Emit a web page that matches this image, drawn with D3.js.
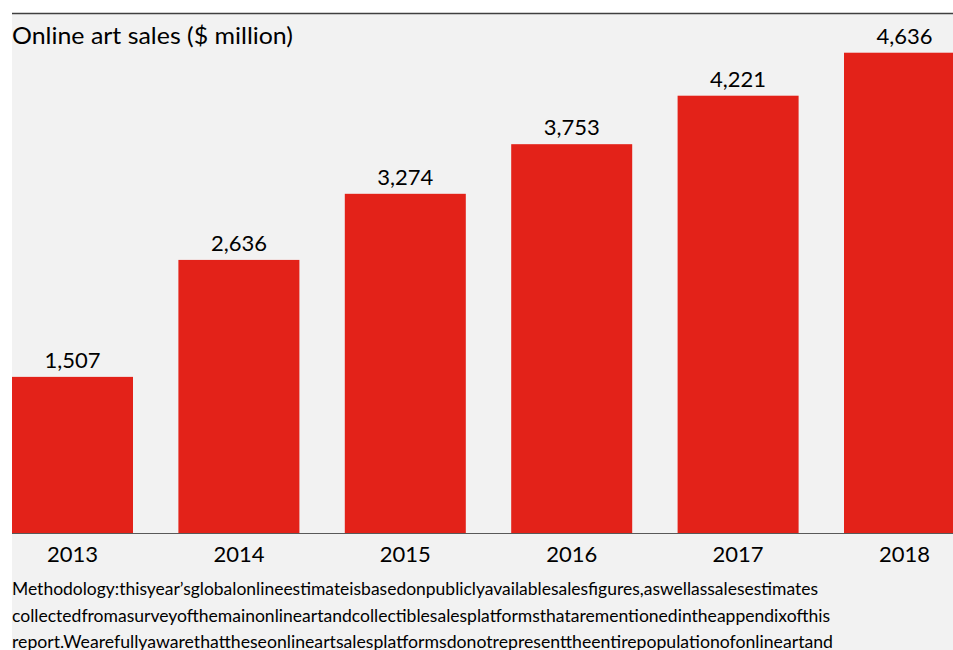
<!DOCTYPE html>
<html>
<head>
<meta charset="utf-8">
<script src="https://cdn.jsdelivr.net/npm/d3@7"></script>
<style>
  body { margin: 0; background: #fff; }
  svg { display: block; font-family: Lato, "Open Sans", sans-serif; }
</style>
</head>
<body>
<div id="chart"></div>
<script>
const years = ["2013", "2014", "2015", "2016", "2017", "2018"];
const sales = [1507, 2636, 3274, 3753, 4221, 4636];
const title = "Online art sales ($ million)";
const notes = [
  "Methodology:thisyear\u2019sglobalonlineestimateisbasedonpubliclyavailablesalesfigures,aswellassalesestimates",
  "collectedfromasurveyofthemainonlineartandcollectiblesalesplatformsthatarementionedintheappendixofthis",
  "report.Wearefullyawarethattheseonlineartsalesplatformsdonotrepresenttheentirepopulationofonlineartand"
];
const noteWidths = [806, 818, 821];

const width = 953, height = 650;

const svg = d3.select("#chart")
  .append("svg")
    .attr("width", width)
    .attr("height", height);

// grey panel + top rule
svg.append("rect")
  .attr("x", 12).attr("y", 14)
  .attr("width", width - 12).attr("height", height - 14)
  .attr("fill", "#f2f2f2");
svg.append("line")
  .attr("x1", 12).attr("x2", width)
  .attr("y1", 13.5).attr("y2", 13.5)
  .attr("stroke", "#404040").attr("stroke-width", 1.5);

const x = d3.scaleBand()
  .domain(years)
  .range([12, 12 + 5 * 166.4 + 121])
  .paddingInner(45.4 / 166.4)
  .paddingOuter(0);

const y = d3.scaleLinear()
  .domain([0, 5000])
  .range([533, 15]);

// bars
svg.selectAll("rect.bar")
  .data(sales)
  .enter()
  .append("rect")
    .attr("class", "bar")
    .attr("x", (d, i) => x(years[i]))
    .attr("y", d => y(d))
    .attr("width", x.bandwidth())
    .attr("height", d => y(0) - y(d))
    .attr("fill", "#e32219");

// value labels
svg.selectAll("text.val")
  .data(sales)
  .enter()
  .append("text")
    .attr("class", "val")
    .attr("x", (d, i) => x(years[i]) + x.bandwidth() / 2)
    .attr("y", d => y(d) - 9)
    .attr("text-anchor", "middle")
    .style("font-size", "22px")
    .attr("fill", "#000")
    .text(d3.format(","));

// x axis
const xAxis = svg.append("g")
  .attr("transform", `translate(0, ${y(0)})`)
  .call(d3.axisBottom(x).tickSize(0).tickPadding(13));
xAxis.select(".domain").attr("stroke", "#595959").attr("stroke-width", 1.2)
  .attr("d", `M12,0.5H${width}`);
xAxis.selectAll("text")
  .style("font-size", "22px")
  .style("font-family", "Lato, 'Open Sans', sans-serif")
  .attr("fill", "#000");

// title
svg.append("text")
  .attr("x", 12)
  .attr("y", 44)
  .attr("textLength", 281)
  .attr("lengthAdjust", "spacingAndGlyphs")
  .style("font-size", "24px")
  .attr("fill", "#000")
  .text(title);

// methodology note
svg.selectAll("text.note")
  .data(notes)
  .enter()
  .append("text")
    .attr("class", "note")
    .attr("x", 12)
    .attr("y", (d, i) => 595 + i * 26.5)
    .attr("textLength", (d, i) => noteWidths[i])
    .attr("lengthAdjust", "spacingAndGlyphs")
    .style("font-size", "17px")
    .attr("fill", "#000")
    .text(d => d);
</script>
</body>
</html>
